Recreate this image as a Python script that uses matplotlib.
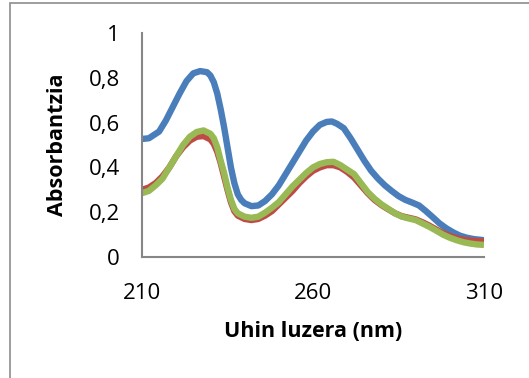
import matplotlib
matplotlib.use("Agg")
import matplotlib.pyplot as plt
from matplotlib.patches import Rectangle

# Wavelength (nm) and absorbance for the three spectra
x_blue = [210, 212, 215, 217, 219, 221, 223, 225, 227, 229, 230, 231, 232, 233, 234, 235, 236, 237, 238, 239, 240,
          242, 244, 246, 248, 250, 252, 254, 256, 258, 260, 262, 264, 265.5, 267, 269, 271, 273, 275, 277, 279, 281,
          283, 285, 287, 289, 291, 293, 295, 297, 299, 301, 303, 305, 307, 310]
y_blue = [0.527, 0.53, 0.56, 0.61, 0.67, 0.73, 0.785, 0.82, 0.83, 0.825, 0.81, 0.78, 0.73, 0.66, 0.58, 0.49, 0.40,
          0.33, 0.28, 0.255, 0.24, 0.227, 0.23, 0.25, 0.28, 0.32, 0.37, 0.42, 0.47, 0.52, 0.56, 0.59, 0.603, 0.605,
          0.595, 0.575, 0.53, 0.48, 0.43, 0.385, 0.35, 0.32, 0.295, 0.272, 0.255, 0.243, 0.23, 0.205, 0.178, 0.15,
          0.128, 0.11, 0.095, 0.086, 0.08, 0.075]

x_red = [210, 212, 214, 216, 218, 220, 222, 224, 226, 228, 230, 231, 232, 233, 234, 235, 236, 237, 238, 240, 242,
         244, 246, 248, 250, 252, 254, 256, 258, 260, 262, 264, 266, 268, 270, 272, 274, 276, 278, 280, 282, 284,
         286, 288, 290, 292, 294, 296, 298, 300, 302, 304, 306, 308, 310]
y_red = [0.30, 0.31, 0.33, 0.36, 0.40, 0.45, 0.49, 0.52, 0.537, 0.54, 0.525, 0.505, 0.47, 0.42, 0.36, 0.30, 0.245,
         0.205, 0.185, 0.17, 0.165, 0.17, 0.185, 0.205, 0.235, 0.265, 0.295, 0.33, 0.36, 0.385, 0.40, 0.41, 0.41,
         0.40, 0.38, 0.355, 0.32, 0.285, 0.255, 0.232, 0.213, 0.195, 0.182, 0.175, 0.168, 0.155, 0.14, 0.123, 0.107,
         0.094, 0.084, 0.077, 0.073, 0.071, 0.07]

x_green = [210, 212, 214, 216, 218, 220, 222, 224, 226, 228, 230, 231, 232, 233, 234, 235, 236, 237, 238, 240, 242,
           244, 246, 248, 250, 252, 254, 256, 258, 260, 262, 264, 266, 268, 270, 272, 274, 276, 278, 280, 282, 284,
           286, 288, 290, 292, 294, 296, 298, 300, 302, 304, 306, 308, 310]
y_green = [0.285, 0.295, 0.32, 0.35, 0.40, 0.45, 0.50, 0.537, 0.558, 0.565, 0.55, 0.53, 0.49, 0.43, 0.375, 0.31,
           0.255, 0.215, 0.195, 0.18, 0.175, 0.18, 0.198, 0.22, 0.245, 0.28, 0.315, 0.345, 0.375, 0.40, 0.415, 0.423,
           0.425, 0.41, 0.39, 0.37, 0.33, 0.29, 0.26, 0.235, 0.215, 0.195, 0.18, 0.172, 0.165, 0.15, 0.135, 0.118,
           0.10, 0.086, 0.075, 0.066, 0.06, 0.056, 0.054]

x_ticks = [210, 260, 310]
y_ticks = [0, 0.2, 0.4, 0.6, 0.8, 1]
y_tick_labels = ["0", "0,2", "0,4", "0,6", "0,8", "1"]
x_label = "Uhin luzera (nm)"
y_label = "Absorbantzia"

plt.rcParams['font.family'] = ['Open Sans', 'DejaVu Sans']

W, H = 529, 378
fig = plt.figure(figsize=(W / 100, H / 100), dpi=100)
fig.patch.set_facecolor("white")

# chart-area border (partially cropped at right/bottom)
fig.patches.append(Rectangle((10 / W, -0.1), 1.2, 1 - 3 / H + 0.1, transform=fig.transFigure,
                             fill=False, edgecolor="#8c8c8c", linewidth=1.2))

ax = fig.add_axes([142 / W, 1 - 257 / H, (484 - 142) / W, (257 - 33) / H])
lw = 4.6
ax.plot(x_blue, y_blue, color="#4A7EBB", lw=lw, solid_capstyle="butt", solid_joinstyle="round")
ax.plot(x_red, y_red, color="#BE4B48", lw=lw, solid_capstyle="butt", solid_joinstyle="round")
ax.plot(x_green, y_green, color="#98B954", lw=lw, solid_capstyle="butt", solid_joinstyle="round")

ax.set_xlim(210, 310)
ax.set_ylim(0, 1)
ax.set_xticks(x_ticks)
ax.set_xticklabels([str(t) for t in x_ticks])
ax.set_yticks(y_ticks)
ax.set_yticklabels(y_tick_labels)
ax.tick_params(length=0, labelsize=16)
ax.tick_params(axis="x", pad=19)
ax.tick_params(axis="y", pad=16)
for s in ["top", "right"]:
    ax.spines[s].set_visible(False)
for s in ["left", "bottom"]:
    ax.spines[s].set_color("#868686")
    ax.spines[s].set_linewidth(1.5)

ax.set_xlabel(x_label, fontsize=15.5, fontweight="bold")
ax.set_ylabel(y_label, fontsize=15.5, fontweight="bold")
ax.xaxis.set_label_coords(0.5, -0.285)
ax.yaxis.set_label_coords(-0.215, 0.5)

fig.savefig("out.png", dpi=100)
